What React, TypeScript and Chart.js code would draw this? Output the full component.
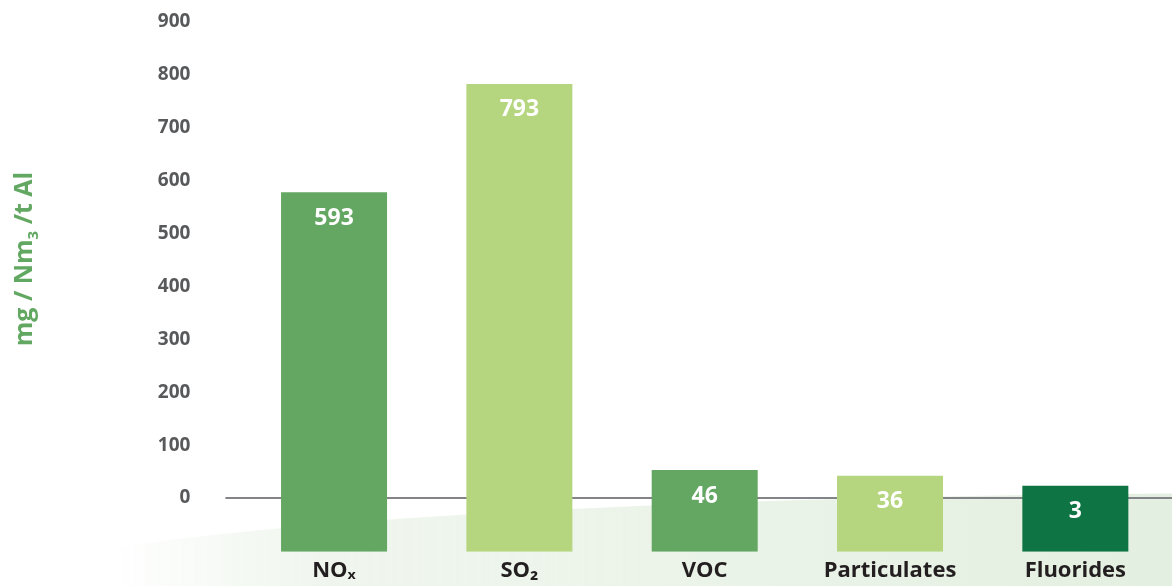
import { useEffect, useRef } from "react";
import { Chart, registerables } from "chart.js";

Chart.register(...registerables);

const categories = ["NOₓ", "SO₂", "VOC", "Particulates", "Fluorides"];
const barTops = [578, 783, 53, 42, 23];
const valueLabels = ["593", "793", "46", "36", "3"];
const barBase = -101.5;
const yTicks = [0, 100, 200, 300, 400, 500, 600, 700, 800, 900];
const barColors = ["#63a762", "#b5d67f", "#63a762", "#b5d67f", "#0e7443"];

const FONT = "'Open Sans', 'Noto Sans', sans-serif";

const glowPlugin = {
  id: "glow",
  beforeDraw(chart: any) {
    const { ctx, width } = chart;
    ctx.save();
    const g = ctx.createLinearGradient(110, 0, width, 0);
    g.addColorStop(0, "rgba(236,244,234,0)");
    g.addColorStop(0.2, "rgba(238,245,236,0.9)");
    g.addColorStop(0.5, "#ecf4ea");
    g.addColorStop(1, "#e3efe0");
    ctx.fillStyle = g;
    ctx.beginPath();
    ctx.ellipse(1300, 586, 1300, 93, 0, 0, Math.PI * 2);
    ctx.fill();
    ctx.restore();
  },
};

const zeroLinePlugin = {
  id: "zeroLine",
  beforeDatasetsDraw(chart: any) {
    const { ctx, width, chartArea, scales } = chart;
    const y = scales.y.getPixelForValue(0);
    ctx.save();
    ctx.strokeStyle = "#828487";
    ctx.lineWidth = 2;
    ctx.beginPath();
    ctx.moveTo(chartArea.left - 16, y);
    ctx.lineTo(width, y);
    ctx.stroke();
    ctx.restore();
  },
};

const valueLabelPlugin = {
  id: "valueLabels",
  afterDatasetsDraw(chart: any) {
    const { ctx, scales } = chart;
    const meta = chart.getDatasetMeta(0);
    ctx.save();
    ctx.fillStyle = "#ffffff";
    ctx.font = `700 23px ${FONT}`;
    ctx.textAlign = "center";
    ctx.textBaseline = "middle";
    meta.data.forEach((bar: any, i: number) => {
      const top = scales.y.getPixelForValue(barTops[i]);
      ctx.fillText(valueLabels[i], bar.x, top + 26);
    });
    ctx.restore();
  },
};

const yTitlePlugin = {
  id: "yTitle",
  afterDraw(chart: any) {
    const { ctx } = chart;
    const big = `700 25px ${FONT}`;
    const small = `700 15px ${FONT}`;
    const p1 = "mg / Nm";
    const p2 = "3";
    const p3 = " /t Al";
    ctx.save();
    ctx.font = big;
    const w1 = ctx.measureText(p1).width;
    const w3 = ctx.measureText(p3).width;
    ctx.font = small;
    const w2 = ctx.measureText(p2).width;
    const total = w1 + w2 + w3;
    ctx.translate(31.5, 259);
    ctx.rotate(-Math.PI / 2);
    ctx.fillStyle = "#63a862";
    ctx.textBaseline = "alphabetic";
    ctx.textAlign = "left";
    let x = -total / 2;
    ctx.font = big;
    ctx.fillText(p1, x, 0);
    x += w1;
    ctx.font = small;
    ctx.fillText(p2, x, 6);
    x += w2;
    ctx.font = big;
    ctx.fillText(p3, x, 0);
    ctx.restore();
  },
};

export default function App() {
  const canvasRef = useRef<HTMLCanvasElement | null>(null);

  useEffect(() => {
    document.body.style.margin = "0";
    const canvas = canvasRef.current;
    if (!canvas) return;
    const chart = new Chart(canvas, {
      type: "bar",
      data: {
        labels: categories,
        datasets: [
          {
            data: barTops.map((t) => [barBase, t]) as any,
            backgroundColor: barColors,
            borderWidth: 0,
            categoryPercentage: 1,
            barPercentage: 0.572,
          },
        ],
      },
      options: {
        responsive: false,
        animation: false,
        devicePixelRatio: 1,
        layout: { padding: { left: 0, right: 4, top: 22, bottom: 0 } },
        plugins: {
          legend: { display: false },
          tooltip: { enabled: false },
          title: { display: false },
        },
        scales: {
          x: {
            afterFit: (scale: any) => {
              scale.height = 34.3;
            },
            grid: { display: false, drawTicks: false },
            border: { display: false },
            ticks: {
              color: "#231f20",
              font: { family: FONT, size: 22, weight: 700 },
              padding: 6.3,
              maxRotation: 0,
              autoSkip: false,
            },
          },
          y: {
            min: barBase,
            max: 900,
            afterBuildTicks: (scale: any) => {
              scale.ticks = yTicks.map((v) => ({ value: v }));
            },
            afterFit: (scale: any) => {
              scale.width = 241.4;
              scale.paddingTop = 0;
              scale.paddingBottom = 0;
            },
            grid: { display: false, drawTicks: false },
            border: { display: false },
            ticks: {
              color: "#58595b",
              font: { family: FONT, size: 19, weight: 700 },
              padding: 51,
            },
          },
        },
      },
      plugins: [glowPlugin, zeroLinePlugin, valueLabelPlugin, yTitlePlugin],
    });
    return () => chart.destroy();
  }, []);

  return (
    <div style={{ width: 1172, height: 586, position: "relative" }}>
      <canvas ref={canvasRef} width={1172} height={586} style={{ width: 1172, height: 586, display: "block" }} />
    </div>
  );
}
